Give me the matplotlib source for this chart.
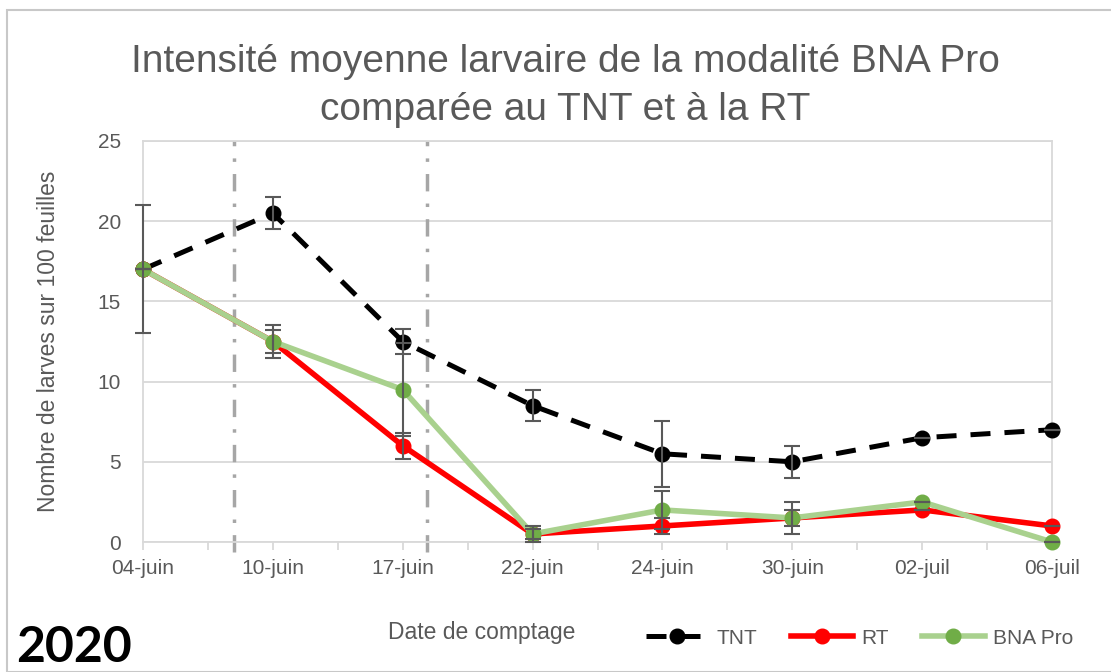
import numpy as np
import matplotlib.pyplot as plt
from matplotlib.patches import Rectangle

plt.rcParams['font.family'] = ['Liberation Sans', 'DejaVu Sans']

dates = ['04-juin', '10-juin', '17-juin', '22-juin', '24-juin', '30-juin', '02-juil', '06-juil']
tnt = [17, 20.5, 12.5, 8.5, 5.5, 5, 6.5, 7]
tnt_err = [4, 1, 0.8, 0.95, 2.05, 1, 0, 0]
rt = [17, 12.5, 6, 0.5, 1, 1.5, 2, 1]
rt_err = [0, 0.7, 0.8, 0.5, 0.5, 1, 0, 0]
bna = [17, 12.5, 9.5, 0.5, 2, 1.5, 2.5, 0]
bna_err = [0, 1, 2.9, 0.3, 1.2, 0.5, 0, 0]
treatments = [0.7, 2.19]  # traitements (lignes verticales)

grey = '#595959'
x = np.arange(len(dates))

fig = plt.figure(figsize=(11.11, 6.72), dpi=100)
fig.patches.append(Rectangle((7 / 1111, 0), 1.2, 1 - 10 / 672, transform=fig.transFigure,
                             fill=False, edgecolor='#c8c8c8', linewidth=1.5))
ax = fig.add_axes([143 / 1111, 1 - 542 / 672, 909 / 1111, 401 / 672])

ax.set_ylim(0, 25)
ax.set_xlim(0, 7)
ax.set_yticks(range(0, 26, 5))
ax.yaxis.grid(True, color='#d9d9d9', linewidth=1.3)
ax.set_axisbelow(True)
for s in ax.spines.values():
    s.set_color('#d9d9d9')
    s.set_linewidth(1.3)

for t in treatments:
    ax.plot([t, t], [-0.6, 25], color='#a6a6a6', linestyle='-.', linewidth=2.5,
            dashes=(5, 3.5, 1, 3.5), clip_on=False, zorder=1)

ek = dict(fmt='none', ecolor=grey, elinewidth=1.5, capsize=6, capthick=1.5, zorder=6)
ax.plot(x, tnt, color='black', linestyle='--', dashes=(4, 2.8), linewidth=3.6,
        marker='o', markersize=10.5, label='TNT', zorder=3, clip_on=False)
ax.plot(x, rt, color='#ff0000', linewidth=4, marker='o', markersize=10.5,
        label='RT', zorder=4, clip_on=False)
ax.plot(x, bna, color='#a9d18e', linewidth=4, marker='o', markersize=10.5,
        markerfacecolor='#70ad47', markeredgecolor='#70ad47', label='BNA Pro', zorder=5,
        clip_on=False)
for vals, errs in [(tnt, tnt_err), (rt, rt_err), (bna, bna_err)]:
    eb = ax.errorbar(x, vals, yerr=errs, **ek)
    for art in eb.lines[1] + eb.lines[2]:
        art.set_clip_on(False)

ax.set_xticks(x)
ax.set_xticklabels(dates)
ax.set_xticks(np.arange(0.5, 7, 1), minor=True)
ax.tick_params(axis='x', which='both', length=6, color='#d9d9d9', width=1.3,
               labelsize=15, labelcolor=grey, pad=6)
ax.tick_params(axis='y', length=0, labelsize=15, labelcolor=grey, pad=16)

ax.set_ylabel('Nombre de larves sur 100 feuilles', fontsize=16.5, color=grey, labelpad=27)
fig.text(482 / 1111, 1 - 632 / 672, 'Date de comptage', fontsize=16.5, color=grey,
         ha='center', va='center')
fig.text(565 / 1111, 1 - 86 / 672,
         'Intensité moyenne larvaire de la modalité BNA Pro\ncomparée au TNT et à la RT',
         fontsize=28, color=grey, ha='center', va='center', linespacing=1.45)
fig.text(16 / 1111, 1 - 648 / 672, '2020', fontsize=36, color='black', ha='left',
         va='center', fontweight='bold', family=['Lato', 'DejaVu Sans'])

fig.legend(loc='center right', bbox_to_anchor=(1092 / 1111, 1 - 638 / 672), ncol=3,
           frameon=False, fontsize=15, labelcolor=grey, handlelength=3,
           handletextpad=0.4, columnspacing=1.6)

fig.savefig('out.png', dpi=100)
